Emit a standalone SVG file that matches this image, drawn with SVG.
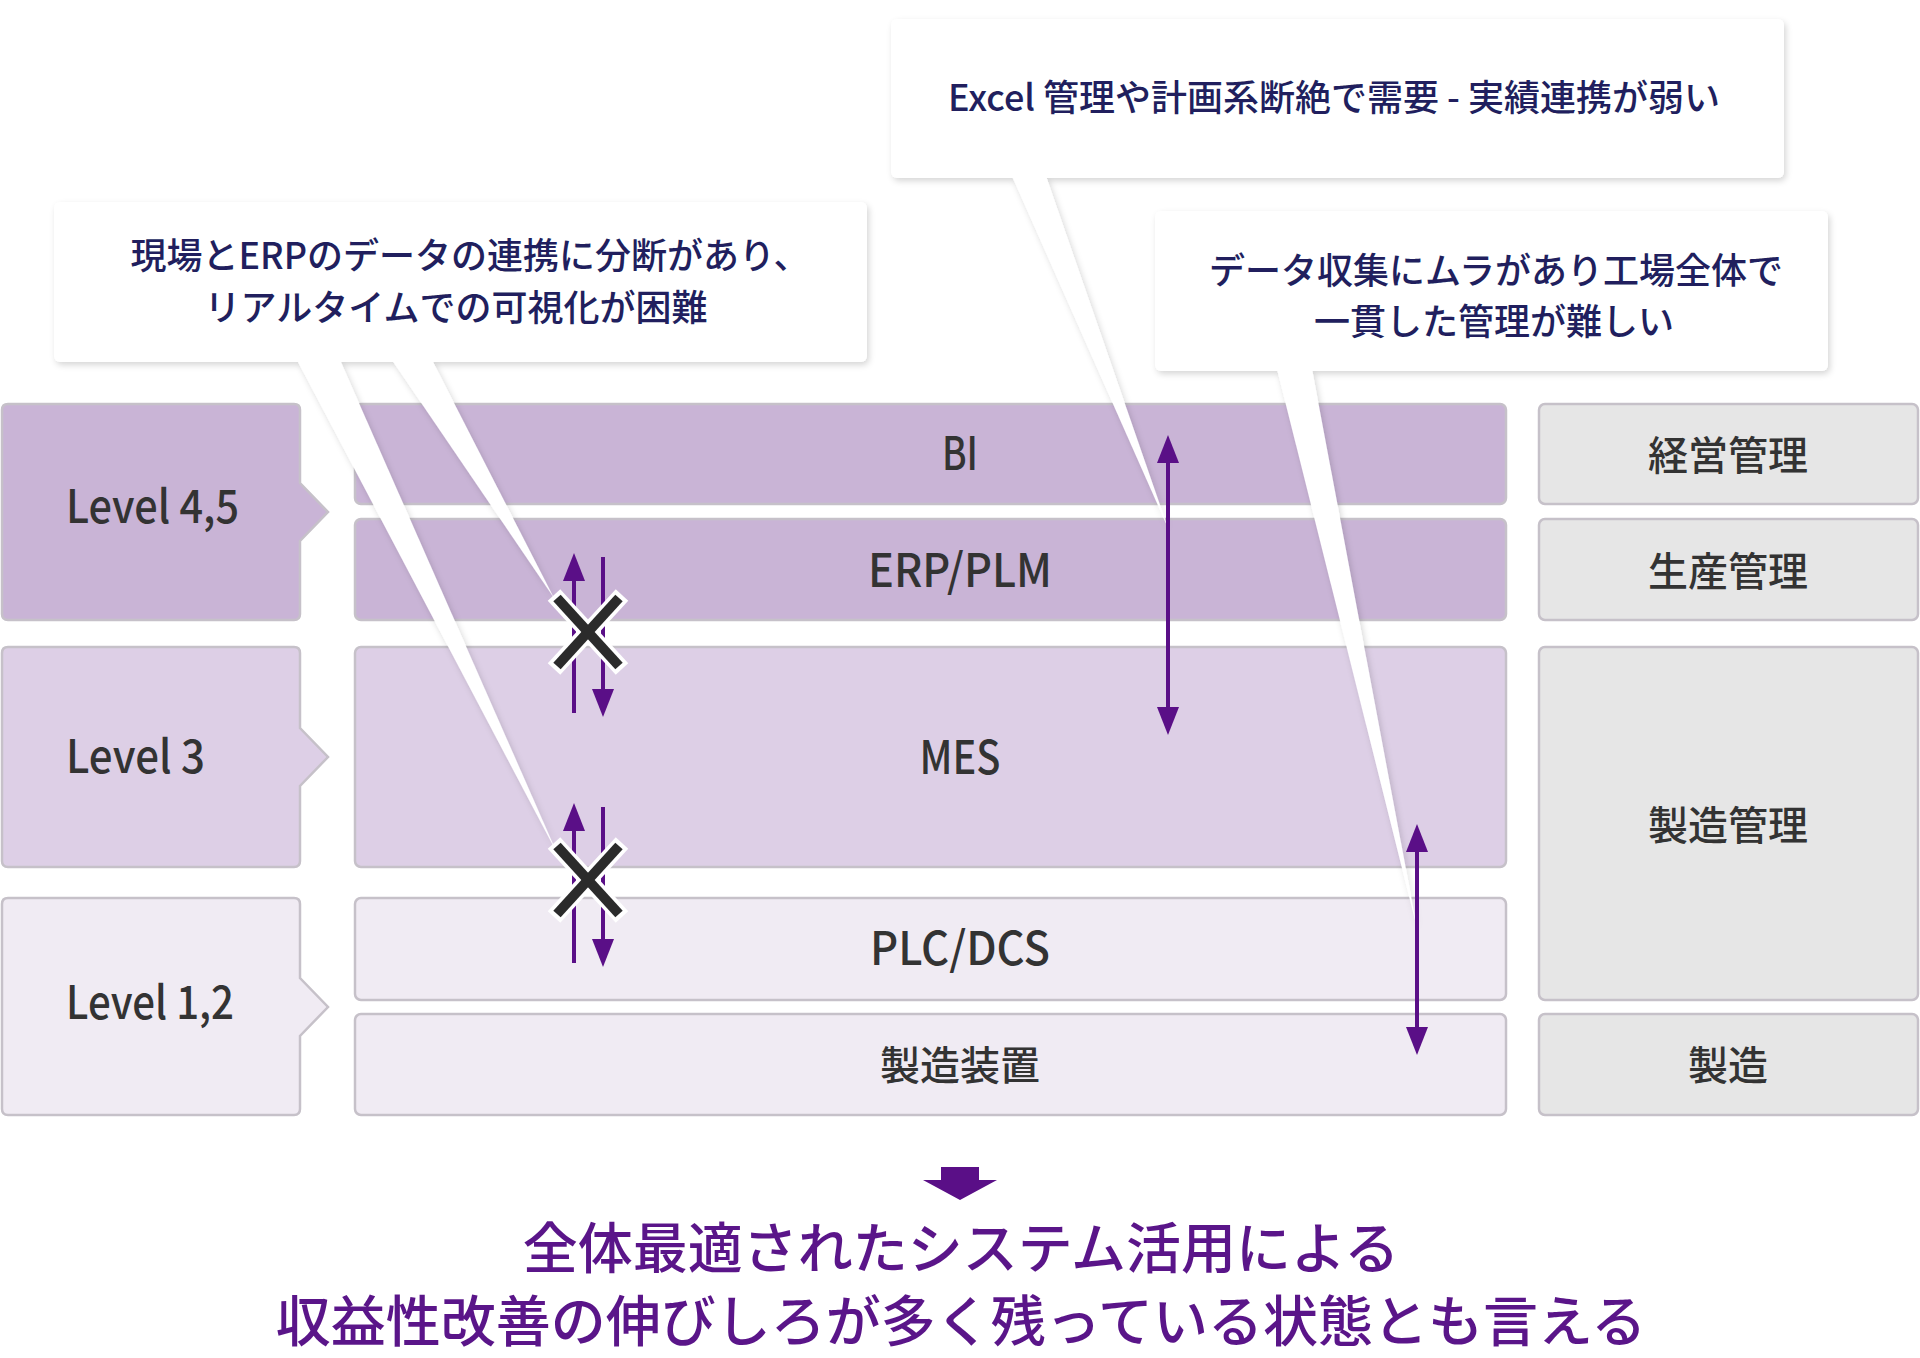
<svg xmlns="http://www.w3.org/2000/svg" width="1920" height="1358" viewBox="0 0 1920 1358">
<style>
.lv{font-family:"Noto Sans CJK JP","Noto Sans",sans-serif;font-weight:500;font-size:46px;fill:#333333}
.bar{font-family:"Noto Sans CJK JP","Noto Sans",sans-serif;font-weight:500;font-size:46px;fill:#333333;text-anchor:middle}
.jp{font-family:"Noto Sans CJK JP",sans-serif;font-weight:500;font-size:40px;fill:#333333;text-anchor:middle}
.co{font-family:"Noto Sans CJK JP",sans-serif;font-weight:500;font-size:36px;fill:#211f5e;text-anchor:middle}
.big{font-family:"Noto Sans CJK JP",sans-serif;font-weight:500;font-size:55px;fill:#5a1589;text-anchor:middle}
.d1{fill:#c9b4d6;stroke:#c6c1c9;stroke-width:2.5}
.d2{fill:#ddcfe6;stroke:#c6c1c9;stroke-width:2.5}
.d3{fill:#f0ebf3;stroke:#c6c1c9;stroke-width:2.5}
.gr{fill:#e6e6e6;stroke:#c6c1c9;stroke-width:2.5}
.arr{stroke:#5a0f87;stroke-width:4;fill:none}
.xw{stroke:#ffffff;stroke-width:17}
.xd{stroke:#2b2b2b;stroke-width:10}
</style>
<defs>
<filter id="sh" x="-10%" y="-10%" width="120%" height="130%">
<feDropShadow dx="2" dy="3" stdDeviation="3" flood-color="#000000" flood-opacity="0.16"/>
</filter>
<marker id="ah" markerUnits="userSpaceOnUse" viewBox="0 0 28 22" markerWidth="28" markerHeight="22" refX="18" refY="11" orient="auto-start-reverse">
<path d="M0,0 L28,11 L0,22 Z" fill="#5a0f87"/>
</marker>
</defs>

<g id="level45">
<path class="d1" d="M8,404 H294 Q300,404 300,410 V483 L328,512 L300,541 V614 Q300,620 294,620 H8 Q2,620 2,614 V410 Q2,404 8,404 Z"/>
<text class="lv" x="66" y="523" textLength="173" lengthAdjust="spacingAndGlyphs">Level 4,5</text>
</g>
<g id="level3">
<path class="d2" d="M8,647 H294 Q300,647 300,653 V728 L328,757 L300,786 V861 Q300,867 294,867 H8 Q2,867 2,861 V653 Q2,647 8,647 Z"/>
<text class="lv" x="66" y="773" textLength="139" lengthAdjust="spacingAndGlyphs">Level 3</text>
</g>
<g id="level12">
<path class="d3" d="M8,898 H294 Q300,898 300,904 V978 L328,1007 L300,1036 V1109 Q300,1115 294,1115 H8 Q2,1115 2,1109 V904 Q2,898 8,898 Z"/>
<text class="lv" x="66" y="1019" textLength="168" lengthAdjust="spacingAndGlyphs">Level 1,2</text>
</g>

<g id="bi"><rect class="d1" x="355" y="404" width="1151" height="100" rx="6"/><text class="bar" x="960" y="470" textLength="36" lengthAdjust="spacingAndGlyphs">BI</text></g>
<g id="erp"><rect class="d1" x="355" y="519" width="1151" height="101" rx="6"/><text class="bar" x="960" y="587" textLength="184" lengthAdjust="spacingAndGlyphs">ERP/PLM</text></g>
<g id="mes"><rect class="d2" x="355" y="647" width="1151" height="220" rx="6"/><text class="bar" x="960" y="774" textLength="81" lengthAdjust="spacingAndGlyphs">MES</text></g>
<g id="plc"><rect class="d3" x="355" y="898" width="1151" height="102" rx="6"/><text class="bar" x="960" y="965" textLength="180" lengthAdjust="spacingAndGlyphs">PLC/DCS</text></g>
<g id="equip"><rect class="d3" x="355" y="1014" width="1151" height="101" rx="6"/><text class="jp" x="960" y="1080">製造装置</text></g>

<g id="keiei"><rect class="gr" x="1539" y="404" width="379" height="100" rx="6"/><text class="jp" x="1728" y="470">経営管理</text></g>
<g id="seisan"><rect class="gr" x="1539" y="519" width="379" height="101" rx="6"/><text class="jp" x="1728" y="586">生産管理</text></g>
<g id="seizoukanri"><rect class="gr" x="1539" y="647" width="379" height="353" rx="6"/><text class="jp" x="1728" y="840">製造管理</text></g>
<g id="seizou"><rect class="gr" x="1539" y="1014" width="379" height="101" rx="6"/><text class="jp" x="1728" y="1080">製造</text></g>

<g id="callout-a" filter="url(#sh)">
<polygon points="297,360 340,360 557,853" fill="#ffffff"/>
<polygon points="392,360 432,360 554,598" fill="#ffffff"/>
<rect x="54" y="202" width="813" height="160" rx="6" fill="#ffffff"/>
</g>
<g id="callout-b" filter="url(#sh)">
<polygon points="1012,176 1046,176 1168,528" fill="#ffffff"/>
<rect x="891" y="19" width="893" height="159" rx="6" fill="#ffffff"/>
</g>
<g id="callout-c" filter="url(#sh)">
<polygon points="1277,369 1312,369 1417,928" fill="#ffffff"/>
<rect x="1155" y="211" width="673" height="160" rx="6" fill="#ffffff"/>
</g>
<g id="callout-texts">
<text class="co" x="470" y="269">現場とERPのデータの連携に分断があり、</text>
<text class="co" x="456" y="321">リアルタイムでの可視化が困難</text>
<text class="co" x="1334" y="111">Excel<tspan dx="8">管理や計画系断絶で需要</tspan><tspan dx="8">-</tspan><tspan dx="8">実績連携が弱い</tspan></text>
<text class="co" x="1496" y="284">データ収集にムラがあり工場全体で</text>
<text class="co" x="1494" y="335">一貫した管理が難しい</text>
</g>

<g id="connectors">
<line class="arr" x1="1168" y1="445" x2="1168" y2="725" marker-start="url(#ah)" marker-end="url(#ah)"/>
<line class="arr" x1="1417" y1="834" x2="1417" y2="1045" marker-start="url(#ah)" marker-end="url(#ah)"/>
<line class="arr" x1="574" y1="713" x2="574" y2="563" marker-end="url(#ah)"/>
<line class="arr" x1="603" y1="557" x2="603" y2="707" marker-end="url(#ah)"/>
<line class="arr" x1="574" y1="963" x2="574" y2="813" marker-end="url(#ah)"/>
<line class="arr" x1="603" y1="807" x2="603" y2="957" marker-end="url(#ah)"/>
</g>

<g id="x-upper">
<line class="xw" x1="554" y1="595" x2="622" y2="669"/>
<line class="xw" x1="622" y1="595" x2="554" y2="669"/>
<line class="xd" x1="557" y1="598" x2="619" y2="666"/>
<line class="xd" x1="619" y1="598" x2="557" y2="666"/>
</g>
<g id="x-lower">
<line class="xw" x1="554" y1="843" x2="622" y2="917"/>
<line class="xw" x1="622" y1="843" x2="554" y2="917"/>
<line class="xd" x1="557" y1="846" x2="619" y2="914"/>
<line class="xd" x1="619" y1="846" x2="557" y2="914"/>
</g>

<g id="conclusion">
<polygon points="941,1167 979,1167 979,1180 997,1180 960,1200 923,1180 941,1180" fill="#5a0f87"/>
<text class="big" x="961" y="1268">全体最適されたシステム活用による</text>
<text class="big" x="961" y="1341" font-size="54">収益性改善の伸びしろが多く残っている状態とも言える</text>
</g>
</svg>
